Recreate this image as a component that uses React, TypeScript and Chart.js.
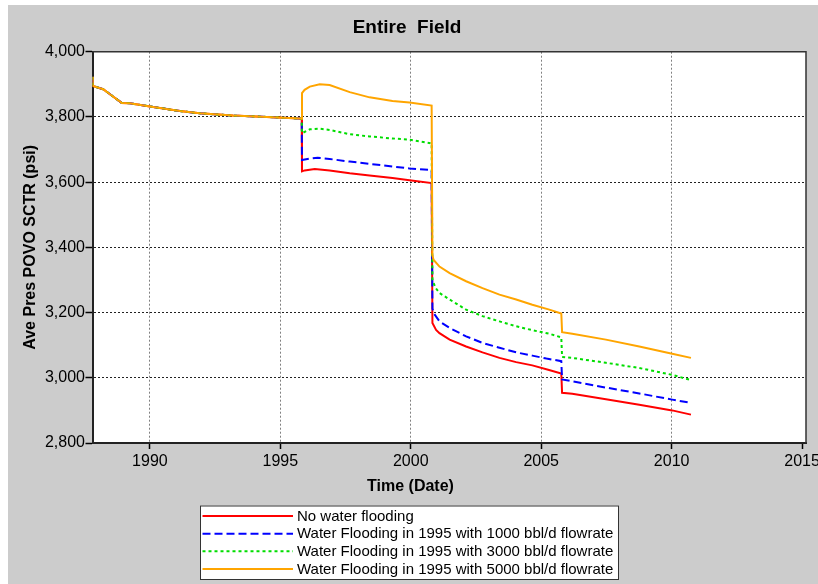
import { useEffect, useRef } from 'react';
import { Chart, registerables } from 'chart.js';

Chart.register(...registerables);

const FONT = '"Liberation Sans", Arial, sans-serif';

// Field history shared by every case, before the 1995 water flooding decision
const historyYears = [1987.8, 1987.81, 1988.21, 1988.6, 1988.92, 1989.23, 1990.0, 1991.15, 1991.91, 1993.18, 1994.48, 1995.74, 1995.82];
const historyPsi = [3923, 3895, 3885, 3862, 3843, 3842, 3832, 3818, 3811, 3804, 3800, 3795, 3794];

// No water flooding
const noFloodYears = [1995.83, 1995.93, 1996.32, 1996.89, 1997.66, 1998.42, 1999.3, 1999.95, 2000.8, 2000.83, 2000.97, 2001.1, 2001.49, 2002.12, 2002.75, 2003.4, 2004.04, 2004.66, 2005.3, 2005.77, 2005.8, 2006.19, 2007.48, 2008.76, 2010.02, 2010.74];
const noFloodPsi = [3633, 3636, 3640, 3636, 3627, 3620, 3613, 3606, 3597, 3168, 3147, 3137, 3117, 3096, 3078, 3061, 3048, 3038, 3024, 3013, 2954, 2951, 2934, 2917, 2900, 2887];

// Water flooding, 1000 bbl/d
const wf1000Years = [1995.83, 1996.13, 1996.43, 1996.89, 1997.66, 1998.42, 1999.3, 1999.95, 2000.8, 2000.83, 2000.9, 2001.1, 2001.49, 2002.12, 2002.75, 2003.4, 2004.04, 2004.66, 2005.2, 2005.77, 2005.8, 2006.19, 2007.48, 2008.76, 2010.02, 2010.74];
const wf1000Psi = [3668, 3672, 3675, 3671, 3663, 3656, 3648, 3642, 3637, 3212, 3196, 3173, 3153, 3127, 3107, 3092, 3078, 3068, 3059, 3051, 2995, 2989, 2970, 2952, 2933, 2923];

// Water flooding, 3000 bbl/d
const wf3000Years = [1995.83, 1996.13, 1996.51, 1996.89, 1997.66, 1998.42, 1999.3, 1999.95, 2000.8, 2000.83, 2000.95, 2001.1, 2001.49, 2002.12, 2002.75, 2003.4, 2004.04, 2004.66, 2005.31, 2005.77, 2005.8, 2006.19, 2007.48, 2008.76, 2010.02, 2010.74];
const wf3000Psi = [3750, 3762, 3764, 3760, 3747, 3740, 3734, 3730, 3719, 3300, 3276, 3260, 3240, 3209, 3189, 3173, 3158, 3146, 3135, 3124, 3064, 3061, 3046, 3030, 3009, 2993];

// Water flooding, 5000 bbl/d
const wf5000Years = [1995.83, 1995.93, 1996.13, 1996.51, 1996.89, 1997.66, 1998.42, 1999.3, 1999.95, 2000.8, 2000.83, 2000.87, 2001.1, 2001.49, 2002.12, 2002.75, 2003.4, 2004.04, 2004.66, 2005.31, 2005.77, 2005.8, 2006.19, 2007.48, 2008.76, 2010.02, 2010.74];
const wf5000Psi = [3873, 3883, 3893, 3900, 3898, 3876, 3860, 3849, 3844, 3835, 3377, 3362, 3341, 3321, 3296, 3275, 3255, 3240, 3224, 3209, 3197, 3140, 3135, 3117, 3096, 3074, 3061];

const seriesLabels = [
  'No water flooding',
  'Water Flooding in 1995 with 1000 bbl/d flowrate',
  'Water Flooding in 1995 with 3000 bbl/d flowrate',
  'Water Flooding in 1995 with 5000 bbl/d flowrate',
];

const yearTicks = [1990, 1995, 2000, 2005, 2010, 2015];
const psiTicks = [2800, 3000, 3200, 3400, 3600, 3800, 4000];

const toPoints = (xs: number[], ys: number[]) => xs.map((x, i) => ({ x, y: ys[i] }));
const withHistory = (xs: number[], ys: number[]) => [
  ...toPoints(historyYears, historyPsi),
  ...toPoints(xs, ys),
];

// white plot area, frame, x-axis title and the boxed legend below the chart
const decorations = {
  id: 'decorations',
  beforeDraw(chart: any) {
    const { ctx, chartArea: a } = chart;
    ctx.save();
    ctx.fillStyle = '#ffffff';
    ctx.fillRect(a.left, a.top, a.right - a.left, a.bottom - a.top);
    ctx.restore();
  },
  afterDraw(chart: any) {
    const { ctx, chartArea: a } = chart;
    ctx.save();
    // top and right frame
    ctx.strokeStyle = '#333333';
    ctx.lineWidth = 1.5;
    ctx.beginPath();
    ctx.moveTo(a.left, a.top);
    ctx.lineTo(a.right, a.top);
    ctx.lineTo(a.right, a.bottom);
    ctx.stroke();

    // x-axis title
    ctx.fillStyle = '#000';
    ctx.font = `bold 16px ${FONT}`;
    ctx.textAlign = 'center';
    ctx.textBaseline = 'middle';
    ctx.fillText('Time (Date)', 402.5, 482);

    // legend box
    const bx = 192, by = 500.5, bw = 419, bh = 74.5;
    ctx.fillStyle = '#ffffff';
    ctx.fillRect(bx, by, bw, bh);
    ctx.strokeStyle = '#333333';
    ctx.lineWidth = 1;
    ctx.strokeRect(bx + 0.5, by + 0.5, bw - 1, bh - 1);

    ctx.font = `15px ${FONT}`;
    ctx.textAlign = 'left';
    chart.data.datasets.forEach((ds: any, i: number) => {
      const y = 511 + i * 17.67;
      ctx.strokeStyle = ds.borderColor;
      ctx.lineWidth = ds.borderWidth;
      ctx.setLineDash(ds.borderDash || []);
      ctx.beginPath();
      ctx.moveTo(194.5, y);
      ctx.lineTo(285, y);
      ctx.stroke();
      ctx.setLineDash([]);
      ctx.fillStyle = '#000';
      ctx.fillText(ds.label, 289, y + 0.5);
    });
    ctx.restore();
  },
};

export default function App() {
  const ref = useRef<HTMLCanvasElement>(null);

  useEffect(() => {
    const canvas = ref.current;
    if (!canvas) return;
    const chart = new Chart(canvas, {
      type: 'line',
      data: {
        datasets: [
          {
            label: seriesLabels[0],
            data: withHistory(noFloodYears, noFloodPsi),
            borderColor: '#ff0000',
            borderWidth: 2,
            order: 4,
          },
          {
            label: seriesLabels[1],
            data: withHistory(wf1000Years, wf1000Psi),
            borderColor: '#0000ff',
            borderWidth: 2,
            borderDash: [8, 4],
            order: 3,
          },
          {
            label: seriesLabels[2],
            data: withHistory(wf3000Years, wf3000Psi),
            borderColor: '#00dd00',
            borderWidth: 2,
            borderDash: [3, 3],
            order: 2,
          },
          {
            label: seriesLabels[3],
            data: withHistory(wf5000Years, wf5000Psi),
            borderColor: '#ffa500',
            borderWidth: 2,
            order: 1,
          },
        ],
      },
      options: {
        animation: false,
        responsive: false,
        layout: { padding: { left: 0, right: 32, top: 0, bottom: 0 } },
        elements: {
          point: { radius: 0, hoverRadius: 0 },
          line: { tension: 0, borderCapStyle: 'butt' },
        },
        plugins: {
          legend: { display: false },
          tooltip: { enabled: false },
          title: {
            display: true,
            text: 'Entire  Field',
            color: '#000',
            font: { family: FONT, size: 19, weight: 'bold', lineHeight: 1.2 },
            padding: { top: 11.6, bottom: 12.3 },
          },
        },
        scales: {
          x: {
            type: 'linear',
            min: 1987.8,
            max: 2015.15,
            afterBuildTicks: (s: any) => {
              s.ticks = yearTicks.map((v) => ({ value: v }));
            },
            afterFit: (s: any) => {
              s.height = 141;
            },
            ticks: {
              autoSkip: false,
              maxRotation: 0,
              padding: 3,
              color: '#000',
              font: { family: FONT, size: 16 },
              callback: (v: any) => String(v),
            },
            grid: {
              color: (c: any) => (c.tick && c.tick.value === 2015 ? 'rgba(0,0,0,0)' : '#808080'),
              lineWidth: 1,
              tickLength: 6,
              tickColor: '#000',
              tickWidth: 1.5,
            },
            border: { display: true, color: '#222', width: 2, dash: [2, 2] },
          },
          y: {
            min: 2800,
            max: 4000,
            afterBuildTicks: (s: any) => {
              s.ticks = psiTicks.map((v) => ({ value: v }));
            },
            afterFit: (s: any) => {
              s.width = 84.5;
            },
            ticks: {
              padding: 0.5,
              color: '#000',
              font: { family: FONT, size: 16 },
              callback: (v: any) => Number(v).toLocaleString('en-US'),
            },
            grid: {
              color: '#222',
              lineWidth: 1,
              tickLength: 7,
              tickColor: '#000',
              tickWidth: 1.5,
            },
            border: { display: true, color: '#222', width: 2, dash: [2, 2] },
            title: {
              display: true,
              text: 'Ave Pres POVO SCTR (psi)',
              color: '#000',
              font: { family: FONT, size: 16, weight: 'bold', lineHeight: 1.2 },
              padding: { top: 13.4, bottom: 0 },
            },
          },
        },
      },
      plugins: [decorations],
    } as any);
    return () => chart.destroy();
  }, []);

  return (
    <div
      style={{
        position: 'fixed',
        left: 8,
        top: 5,
        width: 810,
        height: 579,
        overflow: 'hidden',
        background: '#cccccc',
      }}
    >
      <canvas ref={ref} width={830} height={579} style={{ display: 'block', width: 830, height: 579 }} />
    </div>
  );
}
